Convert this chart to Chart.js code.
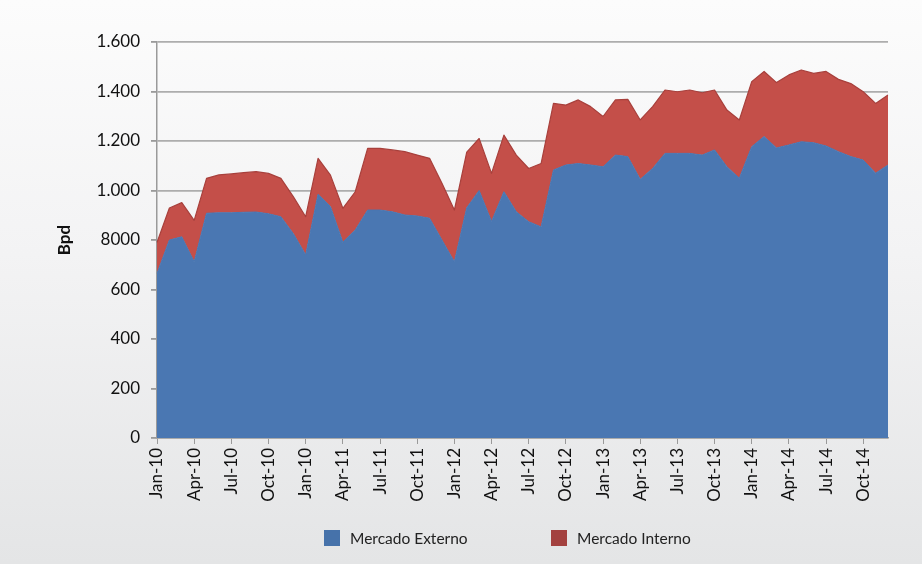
<!DOCTYPE html>
<html>
<head>
<meta charset="utf-8">
<script src="https://cdn.jsdelivr.net/npm/chart.js@4.4.1/dist/chart.umd.min.js"></script>
<style>
  html, body { margin: 0; padding: 0; }
  body { width: 922px; height: 564px; overflow: hidden; position: relative;
         background: linear-gradient(to bottom, #fcfcfc 0%, #f3f3f4 45%, #e4e5e6 100%);
         font-family: Lato, "Open Sans", sans-serif; }
  #wrap { position: absolute; left: 0; top: 0; width: 922px; height: 564px; }
  .leg { position: absolute; top: 528px; height: 20px; display: flex; align-items: center;
         font-family: Lato, sans-serif; font-size: 15.5px; color: #222; }
  .leg .box { width: 16px; height: 16px; margin-right: 10px; }
</style>
</head>
<body>
<div id="wrap"><canvas id="c" width="922" height="564"></canvas></div>
<div class="leg" style="left:324px;"><div class="box" style="background:#4672aa"></div><span>Mercado Externo</span></div>
<div class="leg" style="left:551px;"><div class="box" style="background:#a3413f"></div><span>Mercado Interno</span></div>
<script>
// Monthly categories, Jan-10 .. Dec-14
const months = ['Jan','Feb','Mar','Apr','May','Jun','Jul','Aug','Sep','Oct','Nov','Dec'];
const years = ['10','11','12','13','14'];
const categories = [];
years.forEach(y => months.forEach(m => categories.push(m + '-' + y)));

// Tick labels shown on the x axis (every third month, as printed in the source)
const xTickLabels = ['Jan-10','Apr-10','Jul-10','Oct-10','Jan-10','Apr-11','Jul-11','Oct-11',
  'Jan-12','Apr-12','Jul-12','Oct-12','Jan-13','Apr-13','Jul-13','Oct-13',
  'Jan-14','Apr-14','Jul-14','Oct-14'];

// Y tick labels as printed in the source
const yTickLabels = ['0','200','400','600','8000','1.000','1.200','1.400','1.600'];

// Mercado Externo (bottom layer), Bpd
const mercadoExterno = [
  665, 800, 813, 712, 908, 910, 910, 912, 913, 906,
  894, 826, 740, 985, 935, 791, 840, 921, 921, 914,
  901, 897, 888, 800, 712, 930, 1000, 875, 995, 914,
  874, 853, 1083, 1103, 1109, 1103, 1096, 1143, 1137, 1045,
  1089, 1150, 1150, 1150, 1143, 1164, 1096, 1050, 1177, 1218,
  1172, 1184, 1197, 1193, 1180, 1157, 1137, 1123, 1070, 1103
];

// Total (top of the stack), Bpd
const totalVolume = [
  790, 929, 951, 879, 1049, 1063, 1067, 1072, 1076, 1069,
  1049, 975, 894, 1130, 1062, 928, 995, 1170, 1170, 1164,
  1157, 1143, 1130, 1029, 921, 1155, 1210, 1069, 1224, 1143,
  1089, 1109, 1352, 1345, 1366, 1339, 1299, 1366, 1368, 1285,
  1339, 1406, 1399, 1406, 1395, 1406, 1325, 1285, 1440, 1481,
  1436, 1467, 1487, 1473, 1481, 1449, 1432, 1399, 1352, 1386
];

// Mercado Interno (upper layer) = total - externo
const mercadoInterno = totalVolume.map((t, i) => t - mercadoExterno[i]);

const gridCol = '#adadad';
const axisCol = '#9a9a9a';
const tickFont = { family: 'Lato, sans-serif', size: 17 };

new Chart(document.getElementById('c'), {
  type: 'line',
  data: {
    labels: categories,
    datasets: [
      { label: 'Mercado Externo', data: mercadoExterno, backgroundColor: '#4a77b2',
        borderColor: '#4a77b2', borderWidth: 1, fill: 'origin', pointRadius: 0, tension: 0 },
      { label: 'Mercado Interno', data: mercadoInterno, backgroundColor: '#c44f49',
        borderColor: '#a8403c', borderWidth: 1.2, fill: '-1', pointRadius: 0, tension: 0 }
    ]
  },
  options: {
    responsive: false,
    animation: false,
    devicePixelRatio: 1,
    layout: { padding: { left: 50, right: 34, top: 42, bottom: 56 } },
    plugins: { legend: { display: false }, tooltip: { enabled: false } },
    elements: { line: { borderJoinStyle: 'round' } },
    scales: {
      x: {
        offset: false,
        grid: { display: true, drawOnChartArea: false, drawTicks: true, tickLength: 6,
                tickColor: ctx => (ctx.index % 3 === 0 ? axisCol : 'rgba(0,0,0,0)') },
        border: { display: true, color: axisCol, width: 1.5 },
        ticks: {
          autoSkip: false, maxRotation: 90, minRotation: 90, padding: 4,
          color: '#111', font: tickFont,
          callback: (v, i) => (i % 3 === 0 ? xTickLabels[i / 3] : '')
        },
        afterFit: s => { s.height = 70; }
      },
      y: {
        stacked: true,
        min: 0, max: 1600,
        title: { display: true, text: 'Bpd', color: '#111',
                 font: { family: 'Lato, sans-serif', size: 17, weight: 'bold' } },
        grid: { color: gridCol, lineWidth: 1.8, tickLength: 6, tickColor: axisCol },
        border: { display: true, color: axisCol, width: 1.5 },
        ticks: { stepSize: 200, padding: 11, color: '#111', font: tickFont,
                 callback: (v, i) => yTickLabels[i] },
        afterFit: s => { s.width = 107; }
      }
    }
  }
});
</script>
</body>
</html>
